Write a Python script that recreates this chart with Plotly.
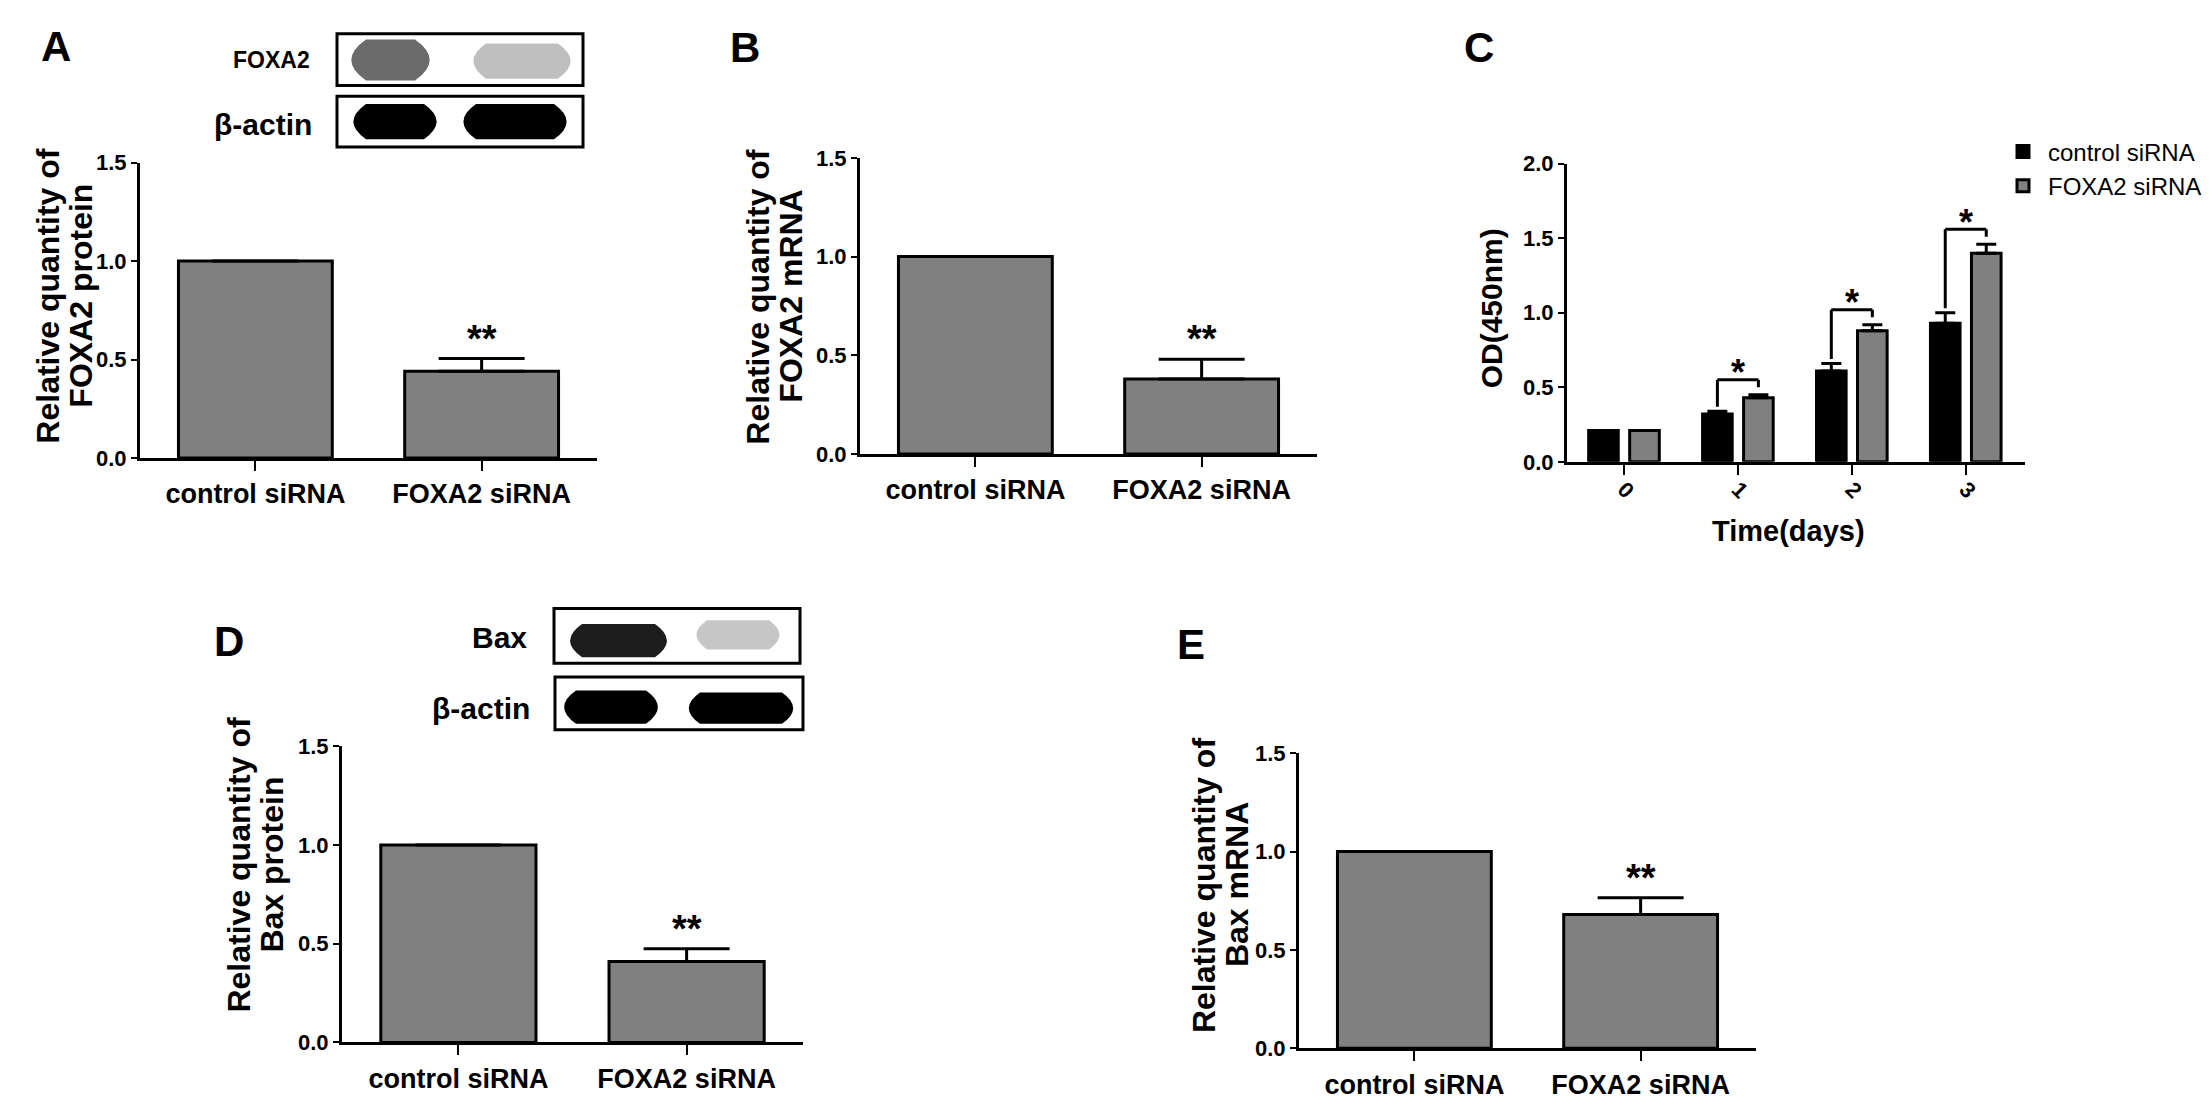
import plotly.graph_objects as go

W, H = 2211, 1111
FONT = "Liberation Sans, Arial, sans-serif"
GRAY = "#808080"

# panels A, B, D, E: two groups each
groups = ["control siRNA", "FOXA2 siRNA"]
foxa2_protein = [1.0, 0.44]
foxa2_protein_err = [0.0, 0.065]
foxa2_mrna = [1.0, 0.38]
foxa2_mrna_err = [0.0, 0.10]
bax_protein = [1.0, 0.41]
bax_protein_err = [0.0, 0.065]
bax_mrna = [1.0, 0.68]
bax_mrna_err = [0.0, 0.085]
sig_two = ["", "**"]

# panel C: proliferation over time
days = ["0", "1", "2", "3"]
od_control = [0.21, 0.32, 0.61, 0.93]
od_control_err = [0.0, 0.02, 0.05, 0.07]
od_foxa2 = [0.21, 0.43, 0.88, 1.40]
od_foxa2_err = [0.0, 0.02, 0.04, 0.06]
sig_days = ["", "*", "*", "*"]


def fx(x):
    return x / W


def fy(y):
    return 1 - y / H


def bold(size):
    return dict(family=FONT, size=size, color="black", weight="bold")


def paper_text(x, y, text, size, angle=0, xanchor="center"):
    return dict(x=fx(x), y=fy(y), xref="paper", yref="paper", text=text,
                textangle=angle, showarrow=False, font=bold(size),
                xanchor=xanchor, yanchor="middle")


fig = go.Figure()
annotations = []
shapes = []

xaxis_style = dict(
    showline=True, linecolor="black", linewidth=3, ticks="outside", ticklen=10,
    tickwidth=2, tickcolor="black", showgrid=False, zeroline=False,
    tickfont=bold(27), ticklabelstandoff=0, fixedrange=True,
)
yaxis_style = dict(
    showline=True, linecolor="black", linewidth=3, ticks="outside", ticklen=6,
    tickwidth=2, tickcolor="black", showgrid=False, zeroline=False,
    tickfont=bold(22), tickformat=".1f", dtick=0.5, fixedrange=True,
)

bar_panels = [
    dict(ax="", vals=foxa2_protein, errs=foxa2_protein_err,
         title=["Relative quantity of", "FOXA2 protein"], box=(132, 589, 146, 448),
         title_at=(56, 282), letter="A", letter_at=(48, 27)),
    dict(ax="2", vals=foxa2_mrna, errs=foxa2_mrna_err,
         title=["Relative quantity of", "FOXA2 mRNA"], box=(852, 1309, 141, 444),
         title_at=(766, 283), letter="B", letter_at=(737, 28)),
    dict(ax="4", vals=bax_protein, errs=bax_protein_err,
         title=["Relative quantity of", "Bax protein"], box=(334, 795, 743, 1046),
         title_at=(247, 864), letter="D", letter_at=(221, 636)),
    dict(ax="5", vals=bax_mrna, errs=bax_mrna_err,
         title=["Relative quantity of", "Bax mRNA"], box=(1291, 1748, 750, 1052),
         title_at=(1212, 885), letter="E", letter_at=(1183, 639)),
]

layout_axes = {}
for p in bar_panels:
    ax = p["ax"]
    fig.add_trace(go.Bar(
        x=groups, y=p["vals"], width=0.68,
        marker=dict(color=GRAY, line=dict(color="black", width=3)),
        error_y=dict(type="data", array=p["errs"], arrayminus=[0] * len(p["errs"]),
                     symmetric=False, color="black", thickness=3, width=43),
        xaxis="x" + ax, yaxis="y" + ax, showlegend=False, hoverinfo="x+y",
    ))
    x0, x1, y0, y1 = p["box"]
    layout_axes["xaxis" + ax] = dict(xaxis_style, domain=[fx(x0), fx(x1)],
                                     anchor="y" + ax, range=[-0.51, 1.51])
    layout_axes["yaxis" + ax] = dict(yaxis_style, domain=[fy(y1), fy(y0)],
                                     anchor="x" + ax, range=[0, 1.5])
    for g, v, e, s in zip(groups, p["vals"], p["errs"], sig_two):
        if s:
            annotations.append(dict(x=g, y=v + e + 0.1, xref="x" + ax, yref="y" + ax,
                                    text=s, showarrow=False, font=bold(38)))
    tx, ty = p["title_at"]
    annotations.append(paper_text(tx - 16, ty, p["title"][0], 32, angle=-90))
    annotations.append(paper_text(tx + 17, ty, p["title"][1], 32, angle=-90))
    lx, ly = p["letter_at"]
    annotations.append(paper_text(lx, ly, p["letter"], 42))

# panel C
for name, vals, errs, color, off in [
    ("control siRNA", od_control, od_control_err, "black", -0.31),
    ("FOXA2 siRNA", od_foxa2, od_foxa2_err, GRAY, 0.05),
]:
    fig.add_trace(go.Bar(
        name=name, x=days, y=vals, width=0.26, offset=off,
        marker=dict(color=color, line=dict(color="black", width=3)),
        error_y=dict(type="data", array=errs, arrayminus=[0] * len(errs),
                     symmetric=False, color="black", thickness=3, width=10),
        xaxis="x3", yaxis="y3",
    ))

layout_axes["xaxis3"] = dict(xaxis_style, domain=[fx(1559), fx(2017)], anchor="y3",
                             range=[-0.5, 3.52], tickangle=45, tickfont=bold(22),
                             ticklabelstandoff=-7)
layout_axes["yaxis3"] = dict(yaxis_style, domain=[fy(452), fy(147)], anchor="x3",
                             range=[0, 2.0])

for i, s in enumerate(sig_days):
    if not s:
        continue
    top = od_foxa2[i] + od_foxa2_err[i] + 0.1
    left_low = od_control[i] + od_control_err[i] + 0.03
    right_low = top - 0.05
    for (a, b, c, d) in [(i - 0.18, left_low, i - 0.18, top),
                         (i - 0.18, top, i + 0.18, top),
                         (i + 0.18, top, i + 0.18, right_low)]:
        shapes.append(dict(type="line", xref="x3", yref="y3", x0=a, y0=b, x1=c, y1=d,
                           line=dict(color="black", width=3)))
    annotations.append(dict(x=days[i], y=top + 0.08, xref="x3", yref="y3", text=s,
                            showarrow=False, font=bold(36), yshift=-5))

annotations.append(paper_text(1483, 295, "OD(450nm)", 30, angle=-90))
annotations.append(paper_text(1780, 523, "Time(days)", 29))
annotations.append(paper_text(1471, 28, "C", 42))

# western blot insets (drawn boxes with band shapes)
blot_labels = [("FOXA2", 304, 41, 23), ("β-actin", 306, 107, 30),
               ("Bax", 521, 632, 30), ("β-actin", 524, 704, 30)]
for txt, rx, cy, size in blot_labels:
    annotations.append(paper_text(rx, cy, txt, size, xanchor="right"))

blot_boxes = [(329, 14, 575, 67), (329, 78, 575, 130), (546, 602, 792, 658),
              (547, 672, 795, 726)]
for a, b, c, d in blot_boxes:
    shapes.append(dict(type="rect", xref="paper", yref="paper", x0=fx(a), y0=fy(b),
                       x1=fx(c), y1=fy(d), line=dict(color="black", width=3),
                       fillcolor="white", layer="below"))


def band(a, c, top, bottom, color, opacity):
    r = (bottom - top) / 2
    path = (f"M {fx(a + r)},{fy(top)} L {fx(c - r)},{fy(top)} "
            f"Q {fx(c + r * 0.4)},{fy(top + r)} {fx(c - r)},{fy(bottom)} "
            f"L {fx(a + r)},{fy(bottom)} Q {fx(a - r * 0.4)},{fy(top + r)} "
            f"{fx(a + r)},{fy(top)} Z")
    return dict(type="path", xref="paper", yref="paper", path=path,
                fillcolor=color, opacity=opacity, line=dict(width=0), layer="above")


shapes += [
    band(337, 428, 20, 62, "#3a3a3a", 0.75),
    band(460, 568, 24, 60, "#8a8a8a", 0.55),
    band(340, 434, 86, 122, "black", 1.0),
    band(450, 564, 86, 122, "black", 1.0),
    band(557, 664, 618, 652, "#111111", 0.95),
    band(684, 776, 614, 644, "#a0a0a0", 0.6),
    band(551, 655, 686, 720, "black", 1.0),
    band(676, 790, 688, 720, "black", 1.0),
]

fig.update_layout(
    width=W, height=H, margin=dict(l=0, r=0, t=0, b=0),
    paper_bgcolor="white", plot_bgcolor="white", barmode="overlay",
    font=dict(family=FONT, color="black"),
    legend=dict(x=fx(1990), y=fy(112), xanchor="left", yanchor="top",
                font=dict(family=FONT, size=24, color="black"),
                bgcolor="rgba(0,0,0,0)", itemwidth=40),
    annotations=annotations, shapes=shapes,
    **layout_axes,
)

fig.write_html("out.html")
